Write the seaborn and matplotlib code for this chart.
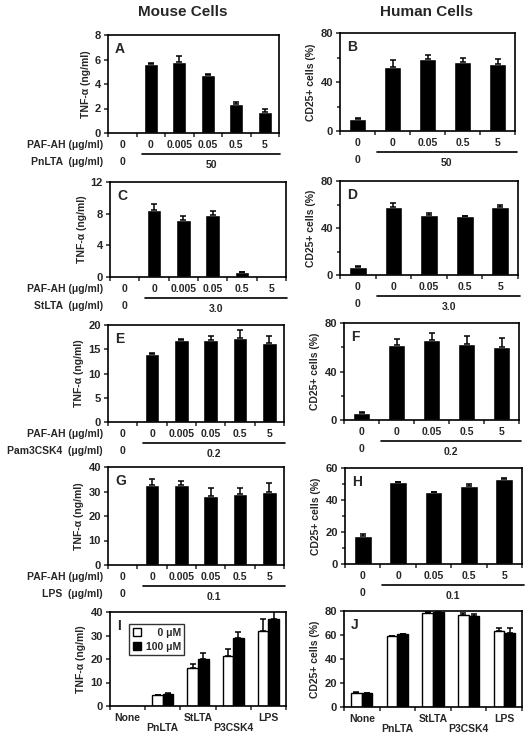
import numpy as np
import pandas as pd
import matplotlib.pyplot as plt
import seaborn as sns

sns.set_style("ticks")
plt.rcParams['font.family'] = ['Liberation Sans', 'DejaVu Sans']
plt.rcParams['font.weight'] = 'bold'

W, H = 528, 738

# PAF-AH doses (first bar is the unstimulated control)
mouse_paf = ['0', '0', '0.005', '0.05', '0.5', '5']
human_paf = ['0', '0', '0.05', '0.5', '5']

# mouse TNF-a (ng/ml)
a_vals = [0, 5.6, 5.8, 4.7, 2.4, 1.7]
a_err = [0, 0.15, 0.45, 0.08, 0.15, 0.25]
c_vals = [0, 8.5, 7.2, 7.8, 0.6, 0.1]
c_err = [0, 0.7, 0.5, 0.6, 0.05, 0]
e_vals = [0, 14.0, 16.9, 17.0, 17.4, 16.2]
e_err = [0, 0.2, 0.3, 0.7, 1.5, 1.5]
g_vals = [0.3, 32.5, 32.5, 28.0, 29.0, 30.0]
g_err = [0, 2.5, 1.8, 3.5, 2.5, 3.3]

# human CD25+ cells (%)
b_vals = [9.5, 52, 59, 56, 55]
b_err = [1, 6, 3, 4, 4]
d_vals = [6.5, 58, 51, 50, 58]
d_err = [1, 3, 2, 0.5, 2]
f_vals = [6, 62, 66, 63, 60]
f_err = [0.5, 5, 6, 6, 8]
h_vals = [17.5, 51, 45, 49, 53]
h_err = [1.5, 0.5, 0.3, 1, 1]

# TLR agonists with 0 / 100 uM
agonists = ['None', 'PnLTA', 'StLTA', 'P3CSK4', 'LPS']
i_0 = [0, 4.5, 16.2, 21.2, 32.0]
i_0_err = [0, 0.3, 1.5, 3.0, 5.0]
i_100 = [0, 5.0, 20.2, 29.0, 37.0]
i_100_err = [0, 0.5, 2.5, 2.5, 3.5]
j_0 = [12, 59, 78, 77, 63]
j_0_err = [0.6, 0.5, 1, 1.5, 3]
j_100 = [11.5, 60.5, 79, 76, 61.5]
j_100_err = [0.5, 0.5, 1, 1.5, 4]

fig = plt.figure(figsize=(W / 100, H / 100), dpi=100)


def make_axes(l, t, r, b):
    return fig.add_axes([l / W, 1 - b / H, (r - l) / W, (b - t) / H])


def style_axes(ax, n, ymax, yticks, yminor, ylabel, letter):
    ax.set_xlim(-0.5, n - 0.5)
    ax.set_ylim(0, ymax)
    ax.set_yticks(yticks)
    ax.set_yticklabels([str(v) for v in yticks])
    if yminor:
        ax.set_yticks(yminor, minor=True)
    ax.set_xticks(np.arange(n + 1) - 0.5)
    ax.set_xticklabels([])
    ax.tick_params(axis='both', which='both', direction='out', width=1.1,
                   labelsize=8, pad=2, length=3)
    ax.tick_params(axis='y', which='minor', length=2.5)
    ax.set_xlabel('')
    ax.set_ylabel(ylabel, fontsize=7.5, fontweight='bold', labelpad=3)
    for s in ax.spines.values():
        s.set_visible(True)
        s.set_linewidth(1.2)
        s.set_color('black')
    ax.text(0.04, 0.93, letter, transform=ax.transAxes, fontsize=10,
            fontweight='bold', va='top', ha='left')


def add_errors(ax, container, errs):
    xs, ys, es = [], [], []
    for p, e in zip(container.patches, errs):
        if e > 0:
            xs.append(p.get_x() + p.get_width() / 2)
            ys.append(p.get_height())
            es.append(e)
    ax.errorbar(xs, ys, yerr=[np.zeros(len(es)), es], fmt='none',
                ecolor='black', elinewidth=1.1, capsize=2.2, capthick=1.1)


def dose_panel(rect, vals, errs, paf, stim_label, dose, letter, ymax,
               yticks, yminor, ylabel, row_names=None, line_from=0.7):
    ax = make_axes(*rect)
    n = len(vals)
    df = pd.DataFrame({'cond': [f'c{i}' for i in range(n)], 'val': vals})
    sns.barplot(data=df, x='cond', y='val', color='black', width=0.5,
                errorbar=None, saturation=1, ax=ax)
    add_errors(ax, ax.containers[0], errs)
    style_axes(ax, n, ymax, yticks, yminor, ylabel, letter)

    hpx = rect[3] - rect[1]
    for i, lab in enumerate(paf):
        ax.annotate(lab, xy=(i, 0), xycoords=('data', 'axes fraction'),
                    xytext=(0, -12), textcoords='offset pixels',
                    ha='center', va='center', fontsize=7.5, fontweight='bold')
    ax.annotate('0', xy=(0, 0), xycoords=('data', 'axes fraction'),
                xytext=(0, -29), textcoords='offset pixels',
                ha='center', va='center', fontsize=7.5, fontweight='bold')
    x0, x1 = line_from, n - 0.5 + 0.05
    ax.plot([x0, x1], [-21 / hpx, -21 / hpx], color='black', lw=1.2,
            transform=ax.get_xaxis_transform(), clip_on=False)
    ax.annotate(dose, xy=((x0 + x1) / 2, 0), xycoords=('data', 'axes fraction'),
                xytext=(0, -32), textcoords='offset pixels',
                ha='center', va='center', fontsize=7.5, fontweight='bold')
    if row_names:
        fig.text(103 / W, 1 - (rect[3] + 12) / H, row_names[0], ha='right',
                 va='center', fontsize=7.5, fontweight='bold')
        fig.text(103 / W, 1 - (rect[3] + 29) / H, row_names[1], ha='right',
                 va='center', fontsize=7.5, fontweight='bold')
    return ax


tnf = 'TNF-α (ng/ml)'
cd25 = 'CD25+ cells (%)'
paf_row = 'PAF-AH (μg/ml)'

dose_panel((108, 35, 279, 133), a_vals, a_err, mouse_paf, 'PnLTA', '50', 'A',
           8, [0, 2, 4, 6, 8], None, tnf, (paf_row, 'PnLTA  (μg/ml)'))
dose_panel((340, 33, 515, 131), b_vals, b_err, human_paf, None, '50', 'B',
           80, [0, 40, 80], [20, 60], cd25, line_from=0.55)
dose_panel((110, 182, 286, 277), c_vals, c_err, mouse_paf, 'StLTA', '3.0', 'C',
           12, [0, 4, 8, 12], None, tnf, (paf_row, 'StLTA  (μg/ml)'))
dose_panel((340, 181, 518, 275), d_vals, d_err, human_paf, None, '3.0', 'D',
           80, [0, 40, 80], [20, 60], cd25, line_from=0.55)
dose_panel((108, 325, 284, 422), e_vals, e_err, mouse_paf, 'Pam3CSK4', '0.2', 'E',
           20, [0, 5, 10, 15, 20], None, tnf, (paf_row, 'Pam3CSK4  (μg/ml)'))
dose_panel((344, 323, 519, 420), f_vals, f_err, human_paf, None, '0.2', 'F',
           80, [0, 40, 80], [20, 60], cd25, line_from=0.55)
dose_panel((108, 467, 284, 565), g_vals, g_err, mouse_paf, 'LPS', '0.1', 'G',
           40, [0, 10, 20, 30, 40], None, tnf, (paf_row, 'LPS  (μg/ml)'))
dose_panel((345, 468, 522, 564), h_vals, h_err, human_paf, None, '0.1', 'H',
           60, [0, 20, 40, 60], [10, 30, 50], cd25, line_from=0.55)


def agonist_panel(rect, v0, e0, v100, e100, letter, ymax, yticks, ylabel, legend):
    ax = make_axes(*rect)
    n = len(agonists)
    df = pd.DataFrame({
        'agonist': agonists * 2,
        'dose': ['0 μM'] * n + ['100 μM'] * n,
        'val': v0 + v100,
    })
    sns.barplot(data=df, x='agonist', y='val', hue='dose', order=agonists,
                hue_order=['0 μM', '100 μM'],
                palette={'0 μM': 'white', '100 μM': 'black'},
                edgecolor='black', linewidth=1.0, width=0.6, saturation=1,
                errorbar=None, ax=ax)
    add_errors(ax, ax.containers[0], e0)
    add_errors(ax, ax.containers[1], e100)
    style_axes(ax, n, ymax, yticks, None, ylabel, letter)
    for i, lab in enumerate(agonists):
        off = -12 if i % 2 == 0 else -22
        ax.annotate(lab, xy=(i, 0), xycoords=('data', 'axes fraction'),
                    xytext=(0, off), textcoords='offset pixels',
                    ha='center', va='center', fontsize=7.5, fontweight='bold')
    handles, _ = ax.get_legend_handles_labels()
    if ax.get_legend() is not None:
        ax.get_legend().remove()
    if legend:
        leg = ax.legend(handles, ['    0 μM', '100 μM'], loc='upper left',
                        bbox_to_anchor=(0.11, 0.87), fontsize=7.5,
                        frameon=True, fancybox=False, edgecolor='black',
                        handlelength=0.8, handleheight=0.8, handletextpad=0.4,
                        borderpad=0.35, labelspacing=0.35, borderaxespad=0)
        leg.get_frame().set_linewidth(1.0)
        for t in leg.get_texts():
            t.set_fontweight('bold')
    return ax


agonist_panel((110, 612, 286, 706), i_0, i_0_err, i_100, i_100_err, 'I',
              40, [0, 10, 20, 30, 40], tnf, True)
agonist_panel((344, 611, 522, 707), j_0, j_0_err, j_100, j_100_err, 'J',
              80, [0, 20, 40, 60, 80], cd25, False)

fig.text(183 / W, 1 - 12 / H, 'Mouse Cells', ha='center', va='center',
         fontsize=11, fontweight='bold')
fig.text(427 / W, 1 - 12 / H, 'Human Cells', ha='center', va='center',
         fontsize=11, fontweight='bold')

fig.savefig('out.png', dpi=100)
